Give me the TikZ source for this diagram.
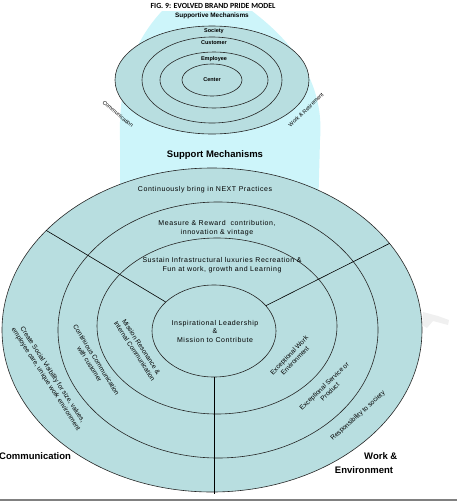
\documentclass[tikz,border=0pt]{standalone}
\usepackage{fontspec}
\setmainfont{Liberation Sans}
\newfontfamily\capfont{Carlito}
\newfontfamily\ringfont[LetterSpace=8]{Liberation Sans}
\usetikzlibrary{positioning,shapes.geometric}
\definecolor{ringfill}{HTML}{B8DEE0}
\definecolor{glow}{HTML}{CDF5FA}

\begin{document}
\begin{tikzpicture}[x=1pt,y=-1pt,
    ring/.style={ellipse,draw=black!85,fill=ringfill,inner sep=0pt,line width=0.6pt},
    ringtext/.style={font=\ringfont\fontsize{7}{9}\selectfont,align=center,inner sep=0pt},
    sidetext/.style={font=\fontsize{6.6}{8}\selectfont,align=center,inner sep=0pt},
    tinytext/.style={font=\bfseries\fontsize{5.5}{6}\selectfont,inner sep=0pt},
    head/.style={font=\bfseries\fontsize{9.5}{11}\selectfont,inner sep=0pt}]

    \useasboundingbox (0,0) rectangle (457,501);

    % glow behind the small model
    \fill[glow] (162,11) -- (252,11) .. controls (290,40) and (325,80) .. (320,140)
        -- (318,215) -- (120,215) -- (120,140) .. controls (118,80) and (135,40) .. (162,11);
    \fill[gray!12] (423,312) -- (438,316) -- (449,320) -- (448,325) -- (433,321)
        -- (427,328) -- (422,325) -- cycle;

    % small model
    \node[font=\capfont\bfseries\fontsize{7.8}{8}\selectfont] (title) at (213,6) {FIG. 9: EVOLVED BRAND PRIDE MODEL};
    \node[tinytext, font=\bfseries\fontsize{6.4}{7}\selectfont] (supportive) at (212,16) {Supportive Mechanisms};

    \node[ring, minimum width=194pt, minimum height=108pt] (soc) at (212,80) {};
    \node[ring, minimum width=140pt, minimum height=86pt] (cust) at (212,80) {};
    \node[ring, minimum width=108pt, minimum height=56pt] (empl) at (214,80) {};
    \node[ring, minimum width=60pt, minimum height=32pt] (cent) at (212,80) {};

    \node[tinytext] at (214,31) {Society};
    \node[tinytext] at (214,43) {Customer};
    \node[tinytext] at (214,59) {Employee};
    \node[tinytext] at (cent) {Center};
    \node[tinytext, font=\fontsize{5.5}{6}\selectfont, rotate=-40] (smallcomm) at (118,114) {Communication};
    \node[tinytext, font=\fontsize{5.5}{6}\selectfont, rotate=44] (smallwork) at (306,110) {Work \& Retirement};

    % large model
    \node[head] (support) at (215,155) {Support Mechanisms};

    \node[ring, minimum width=420pt, minimum height=324pt] (rim) at (212,330) {};
    \node[ring, minimum width=320pt, minimum height=256pt] (band) at (218,330) {};
    \node[ring, minimum width=240pt, minimum height=176pt] (inner) at (217,326) {};
    \node[ring, minimum width=124pt, minimum height=92pt] (core) at (214,331) {};

    \draw[line width=0.6pt] (core.149) -- (rim.149);
    \draw[line width=0.6pt] (core.26) -- (rim.26);
    \draw[line width=0.8pt] (core.south) -- ([yshift=-2pt]core.south |- rim.south);

    \node[ringtext] (next) at (205,190) {Continuously bring in NEXT Practices};
    \node[ringtext] (reward) at (217,228) {Measure \& Reward\ \ contribution,\\innovation \& vintage};
    \node[ringtext] (sustain) at (222,265) {Sustain Infrastructural luxuries Recreation \&\\Fun at work, growth and Learning};
    \node[ringtext, font=\ringfont\fontsize{7}{8.5}\selectfont] (lead) at (215,331) {Inspirational Leadership\\\&\\Mission to Contribute};

    \node[sidetext, rotate=-57] (resonance) at (138,349) {Mission Resonance \&\\Internal Communication};
    \node[sidetext, rotate=-58] (withcust) at (93,362) {Continuous Communication\\with customer};
    \node[sidetext, rotate=-57] (visibility) at (49,377) {Create Social Visibility for size, values,\\employee care, unique work environment};

    \node[sidetext, rotate=46] (workenv) at (292,358) {Exceptional Work\\Environment};
    \node[sidetext, rotate=44] (service) at (327,389) {Exceptional Service or\\Product};
    \node[sidetext, rotate=42] (society) at (358,416) {Responsibility to society};

    \node[head, anchor=west] (comm) at (-1,456) {Communication};
    \node[head, anchor=west] (work) at (364,456) {Work \&};
    \node[head, anchor=north west, below=7pt of work.south west] (environ) {Environment};

    \draw[gray, line width=1.2pt] (0,500) -- (457,500);
\end{tikzpicture}
\end{document}
